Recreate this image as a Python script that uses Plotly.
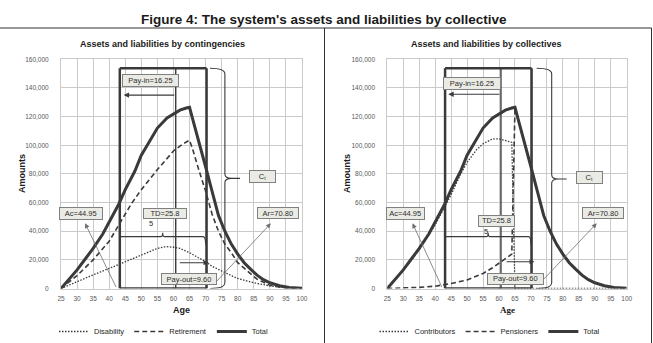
import plotly.graph_objects as go

# ---------------- data ----------------
ages_total = [25, 27, 30, 33, 35, 38, 40, 43, 45, 48, 50, 53, 55, 58, 60, 62, 64, 65, 66, 68,
              70, 72, 74, 76, 78, 80, 82, 84, 86, 88, 90, 93, 96, 100]
total_amounts = [0, 5000, 13000, 22000, 28000, 38000, 46000, 59000, 69000, 82000, 93000, 105000,
                 112000, 119000, 122000, 124500, 126000, 126500, 118000, 102000, 85000, 68000,
                 51000, 40000, 31000, 24000, 18000, 13500, 9300, 6200, 4000, 1900, 700, 100]

ages_disability = [25, 30, 35, 40, 45, 50, 55, 57, 58, 60, 62, 65, 68, 70, 72, 75, 78, 80, 85, 90, 95, 100]
disability = [0, 5000, 9500, 14000, 18700, 23500, 28000, 29000, 29200, 28800, 28000, 25000, 21500,
              18700, 15500, 12000, 9000, 7000, 4000, 1800, 600, 100]

ages_retirement = [25, 30, 35, 37, 40, 45, 47, 50, 55, 60, 63, 65, 66, 68, 70, 72, 74, 76, 78, 80,
                   83, 86, 90, 95, 100]
retirement = [0, 9000, 20000, 25500, 33000, 52000, 59500, 69000, 83000, 96000, 101000, 103500,
              97000, 82000, 68000, 52000, 40000, 31000, 25000, 18000, 12000, 6500, 2200, 300, 0]

ages_contributors = [25, 30, 35, 40, 45, 48, 50, 53, 55, 58, 60, 62, 64, 65, 70, 75, 80, 85, 90, 95, 100]
contributors = [0, 12500, 27000, 44500, 65500, 80000, 88000, 97000, 101000, 104500, 104500, 103500,
                102000, 0, 0, 0, 0, 0, 0, 0, 0]

ages_pensioners = [25, 30, 35, 40, 45, 50, 55, 58, 60, 62, 64, 65, 66, 68, 70, 72, 74, 76, 78, 80,
                   82, 84, 86, 88, 90, 93, 96, 100]
pensioners = [0, 300, 800, 1600, 3500, 6000, 10500, 14500, 17500, 20500, 24000, 126500, 118000,
              102000, 85000, 68000, 51000, 40000, 31000, 24000, 18000, 13500, 9300, 6200, 4000,
              1900, 700, 100]

age_ticks = list(range(25, 101, 5))
amount_ticks = list(range(0, 160001, 20000))

main_title = "Figure 4: The system's assets and liabilities by collective"
panel_titles = ["Assets and liabilities by contingencies", "Assets and liabilities by collectives"]

# ---------------- figure ----------------
W, H = 653, 343
DARK = "#3a3a3a"
GRID = "#cacaca"
TICKC = "#595959"
BOXFILL = "#ebebe6"
BOXLINE = "#808080"
SANS = "Liberation Sans, Arial, sans-serif"
SERIF = "Liberation Serif, Times New Roman, serif"

DOT = "1.5px,1.5px"
DASH = "5px,3px"

fig = go.Figure()


def line(x, y, name, dash, width, legend, xa, ya):
    fig.add_trace(go.Scatter(x=x, y=y, mode="lines", name=name, legend=legend,
                             xaxis=xa, yaxis=ya,
                             line=dict(color=DARK, width=width, dash=dash)))


line(ages_disability, disability, "Disability", DOT, 1.3, "legend", "x", "y")
line(ages_retirement, retirement, "Retirement", DASH, 1.6, "legend", "x", "y")
line(ages_total, total_amounts, "Total", "solid", 3, "legend", "x", "y")

line(ages_contributors, contributors, "Contributors", DOT, 1.3, "legend2", "x2", "y2")
line(ages_pensioners, pensioners, "Pensioners", DASH, 1.6, "legend2", "x2", "y2")
line(ages_total, total_amounts, "Total", "solid", 3, "legend2", "x2", "y2")


def px2x(px):
    return px / W


def px2y(py):
    return (H - py) / H


xaxis_common = dict(range=[25, 100], tickvals=age_ticks, showgrid=True, gridcolor=GRID, gridwidth=1,
                    zeroline=False, showline=True, linecolor=GRID, mirror=True,
                    tickfont=dict(family=SANS, size=6.5, color=TICKC), ticks="", ticklabelstandoff=4,
                    fixedrange=True)
yaxis_common = dict(range=[0, 160000], tickvals=amount_ticks, tickformat=",d", showgrid=True,
                    gridcolor=GRID, gridwidth=1, zeroline=False, showline=True, linecolor=GRID,
                    mirror=True, tickfont=dict(family=SANS, size=6.5, color=TICKC), ticks="",
                    ticklabelstandoff=10, fixedrange=True)

ydom = [px2y(288.5), px2y(59.3)]
legend_common = dict(orientation="h", yanchor="middle", y=px2y(331.5), xanchor="center",
                     font=dict(family=SANS, size=7.5, color="#262626"), bgcolor="rgba(0,0,0,0)",
                     itemwidth=30, tracegroupgap=0)
fig.update_layout(
    width=W, height=H, margin=dict(l=0, r=0, t=0, b=0, autoexpand=False),
    paper_bgcolor="white", plot_bgcolor="white",
    xaxis=dict(domain=[px2x(61), px2x(302)], anchor="y", **xaxis_common),
    yaxis=dict(domain=ydom, anchor="x", **yaxis_common),
    xaxis2=dict(domain=[px2x(387.3), px2x(626.7)], anchor="y2", **xaxis_common),
    yaxis2=dict(domain=ydom, anchor="x2", **yaxis_common),
    legend=dict(x=px2x(164), **legend_common),
    legend2=dict(x=px2x(490), **legend_common),
    showlegend=True,
)

annotations = []
shapes = []


def ptext(text, x, y, font, angle=0):
    annotations.append(dict(text=text, xref="paper", yref="paper", x=px2x(x), y=px2y(y),
                            xanchor="center", yanchor="middle", showarrow=False,
                            textangle=angle, font=font))


# main title and frame
ptext("<b>" + main_title + "</b>", 324, 19.5,
      dict(family="Liberation Sans Narrow, Arial Narrow, Liberation Sans, sans-serif",
           size=13.5, color="#1a1a1a"))
shapes.append(dict(type="line", xref="paper", yref="paper", x0=0, x1=px2x(651.5),
                   y0=px2y(28), y1=px2y(28), line=dict(color="#303030", width=1)))
shapes.append(dict(type="line", xref="paper", yref="paper", x0=px2x(324.5), x1=px2x(324.5),
                   y0=0, y1=px2y(28), line=dict(color="#303030", width=1)))
shapes.append(dict(type="line", xref="paper", yref="paper", x0=px2x(651.5), x1=px2x(651.5),
                   y0=0, y1=px2y(28), line=dict(color="#303030", width=1)))

# panel titles and axis titles
for cx, title, agefont, amx, agex in [(162, panel_titles[0], SANS, 22, 181.5),
                                     (487, panel_titles[1], SERIF, 347, 507.5)]:
    ptext("<b>" + title + "</b>", cx, 44, dict(family=SANS, size=9, color="#1a1a1a"))
    ptext("<b>Amounts</b>", amx, 174, dict(family=SANS, size=9, color="#1a1a1a"), angle=-90)
    ptext("<b>Age</b>", agex, 310, dict(family=agefont, size=9, color="#1a1a1a"))


def box(xr, yr, x, y, text, w, h, size=7.5):
    annotations.append(dict(text=text, xref=xr, yref=yr, x=x, y=y, showarrow=False,
                            xanchor="center", yanchor="middle",
                            width=w - 2, height=h - 2, borderpad=0, borderwidth=1,
                            bordercolor=BOXLINE, bgcolor=BOXFILL, align="center", valign="middle",
                            font=dict(family=SANS, size=size, color="#2b2b2b")))


def arrow(xr, yr, tail, head, color, width, size=1.0):
    annotations.append(dict(text="", xref=xr, yref=yr, axref=xr, ayref=yr,
                            x=head[0], y=head[1], ax=tail[0], ay=tail[1], showarrow=True,
                            arrowhead=2, arrowsize=size, arrowwidth=width, arrowcolor=color))


def seg(xr, yr, x0, y0, x1, y1, width, color=DARK):
    shapes.append(dict(type="line", xref=xr, yref=yr, x0=x0, y0=y0, x1=x1, y1=y1,
                       line=dict(color=color, width=width), layer="above"))


def path(xr, yr, d, width, color=DARK):
    shapes.append(dict(type="path", xref=xr, yref=yr, path=d,
                       line=dict(color=color, width=width), layer="above"))


panels = [
    dict(xr="x", yr="y", left=43.3, right=70.3, mid=60.7, top=153700,
         payin_y=135000, payin_head=44.5,
         payout_y=18000, payout_tail=61.5, payout_head=70.9,
         td_left=43.5, td_right=70.0, td_tip=56.65,
         br_start=71.4, br_spine=76.0, br_tip=78.1, br_end=80.7, br_y=76900,
         boxes=[(52.7, 145200, "Pay-in=16.25", 57, 12.5),
                (57.5, 52200, "TD=25.8", 44, 11),
                (64.8, 6800, "Pay-out=9.60", 56, 12.3),
                (87.8, 78000, "C<sub>t</sub>", 27, 13.3),
                (31.2, 52700, "Ac=44.95", 43.5, 12.6),
                (92.4, 52500, "Ar=70.80", 41.6, 12)],
         five=(52.9, 45700),
         ac=((42.35, 0), (32.5, 45500)), ar=((72.4, 2500), (90.3, 45500))),
    dict(xr="x2", yr="y2", left=43.1, right=70.2, mid=60.6, top=153700,
         payin_y=135600, payin_head=44.1,
         payout_y=18700, payout_tail=61.9, payout_head=71.1,
         td_left=43.3, td_right=70.0, td_tip=56.6,
         br_start=71.8, br_spine=76.5, br_tip=78.6, br_end=81.2, br_y=76400,
         boxes=[(51.6, 143200, "Pay-in=16.25", 58, 13.3),
                (59.1, 47300, "TD=25.8", 37, 11.7),
                (65.3, 6500, "Pay-out=9.60", 56.6, 11.7),
                (88.2, 77800, "C<sub>t</sub>", 26.6, 12.6),
                (30.6, 52500, "Ac=44.95", 38.5, 13.3),
                (92.5, 52500, "Ar=70.80", 42.3, 12)],
         five=(55.9, 39700),
         ac=((42.3, 0), (32.9, 45500)), ar=((71.8, 1300), (90.6, 45500))),
]

for p in panels:
    xr, yr = p["xr"], p["yr"]
    # big rectangle
    seg(xr, yr, p["left"], 0, p["left"], p["top"], 2.5)
    seg(xr, yr, p["right"], 0, p["right"], p["top"], 2.5)
    seg(xr, yr, p["left"], p["top"], p["right"], p["top"], 2.5)
    seg(xr, yr, p["left"], 0, p["right"], 0, 2.5)
    # inner division line
    seg(xr, yr, p["mid"], 0, p["mid"], p["top"], 1.4)
    # TD brace (horizontal, pointing up)
    ty = 36200
    d = (f"M {p['td_left']},{ty} L {p['td_tip'] - 0.6},{ty} "
         f"Q {p['td_tip']},{ty} {p['td_tip']},{ty + 2800} "
         f"Q {p['td_tip']},{ty} {p['td_tip'] + 0.6},{ty} "
         f"L {p['td_right'] - 0.8},{ty} Q {p['td_right']},{ty} {p['td_right']},{ty - 5500}")
    path(xr, yr, d, 1.1)
    # Ct brace (vertical, pointing right)
    s, sp, tp, en, by, top = p["br_start"], p["br_spine"], p["br_tip"], p["br_end"], p["br_y"], p["top"]
    d = (f"M {s},{top} Q {sp},{top} {sp},{top - 4000} L {sp},{by + 3000} "
         f"Q {sp},{by} {tp},{by} L {en},{by} M {tp},{by} Q {sp},{by} {sp},{by - 3000} "
         f"L {sp},4000 Q {sp},0 {s},0")
    path(xr, yr, d, 1.1)
    # arrows
    arrow(xr, yr, (p["mid"], p["payin_y"]), (p["payin_head"], p["payin_y"]), DARK, 1.2, 0.9)
    arrow(xr, yr, (p["payout_tail"], p["payout_y"]), (p["payout_head"], p["payout_y"]), DARK, 1.1, 0.9)
    arrow(xr, yr, p["ac"][0], p["ac"][1], "#6e6e6e", 0.8, 1.2)
    arrow(xr, yr, p["ar"][0], p["ar"][1], "#6e6e6e", 0.8, 1.2)
    # boxes
    for bx, bymid, text, w, h in p["boxes"]:
        box(xr, yr, bx, bymid, text, w, h)
    annotations.append(dict(text="5", xref=xr, yref=yr, x=p["five"][0], y=p["five"][1],
                            xanchor="center", yanchor="middle",
                            showarrow=False, font=dict(family=SANS, size=7.5, color="#2b2b2b")))

fig.update_layout(annotations=annotations, shapes=shapes)
fig.write_html("out.html")
